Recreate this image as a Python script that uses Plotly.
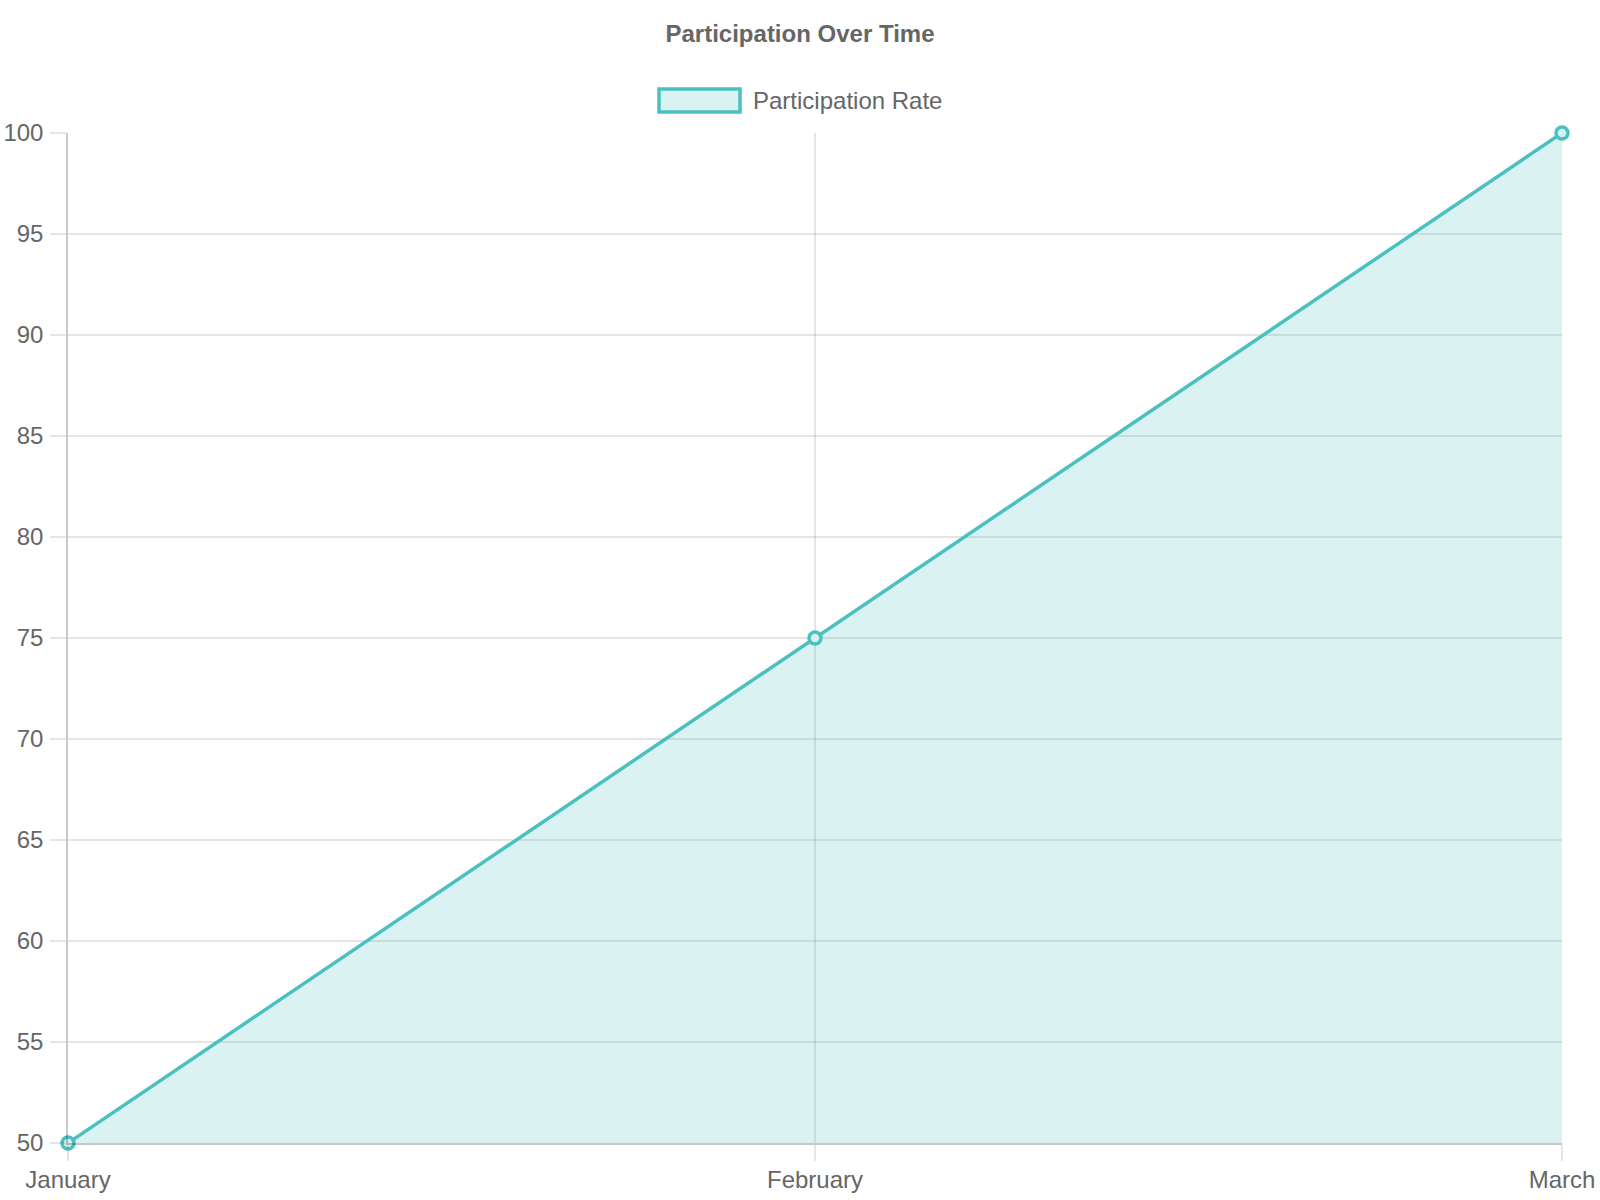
import plotly.graph_objects as go

months = ["January", "February", "March"]
participation = [50, 75, 100]
series_name = "Participation Rate"
chart_title = "Participation Over Time"

W, H = 1600, 1200
L, R, T, B = 68, 38, 133, 57
pw, ph = W - L - R, H - T - B

def px_x(x):
    return (x - L) / pw

def px_y(y):
    return (H - B - y) / ph

teal = "rgb(75,192,192)"
fill = "rgba(75,192,192,0.2)"
txt = "#666666"
font = "Liberation Sans, Arial, sans-serif"

fig = go.Figure()
fig.add_trace(go.Scatter(
    x=months, y=participation, name=series_name,
    mode="lines+markers", fill="tozeroy", fillcolor=fill,
    line=dict(color=teal, width=3.5),
    marker=dict(size=12, color="rgba(215,240,240,1)", line=dict(color=teal, width=3.5)),
    showlegend=False, cliponaxis=False,
))

grid = "rgba(0,0,0,0.1)"
axisline = "rgba(0,0,0,0.22)"

fig.update_layout(
    width=W, height=H,
    margin=dict(l=L, r=R, t=T, b=B, autoexpand=False),
    paper_bgcolor="white", plot_bgcolor="white",
    font=dict(family=font, size=24, color=txt),
    title=dict(text="<b>" + chart_title + "</b>", x=800 / W, xref="container", xanchor="center",
               y=1 - 34 / H, yref="container", yanchor="middle",
               font=dict(family=font, size=24, color=txt)),
    xaxis=dict(type="category", range=[0, len(months) - 1], showgrid=True, gridcolor=grid, gridwidth=1.5,
               showline=True, linecolor=axisline, linewidth=1.5, automargin=False,
               ticks="outside", ticklen=16, tickcolor=grid, tickwidth=1.5, ticklabelstandoff=-2,
               zeroline=False, tickfont=dict(size=24, color=txt)),
    yaxis=dict(range=[50, 100], dtick=5, showgrid=True, gridcolor=grid, gridwidth=1.5,
               showline=True, linecolor=axisline, linewidth=1.5, automargin=False,
               ticks="outside", ticklen=16, tickcolor=grid, tickwidth=1.5, ticklabelstandoff=2,
               zeroline=False, tickfont=dict(size=24, color=txt)),
)

# legend box drawn manually (Chart.js style)
fig.add_shape(type="rect", xref="paper", yref="paper",
              x0=px_x(659), x1=px_x(740), y0=px_y(112), y1=px_y(89),
              fillcolor=fill, line=dict(color=teal, width=3.5))
fig.add_annotation(text=series_name, xref="paper", yref="paper",
                   x=px_x(751), y=px_y(100.5), xanchor="left", yanchor="middle",
                   showarrow=False, font=dict(family=font, size=24, color=txt))

fig.write_html("out.html", config={"displayModeBar": False},
               post_script="document.body.style.margin='0';")
